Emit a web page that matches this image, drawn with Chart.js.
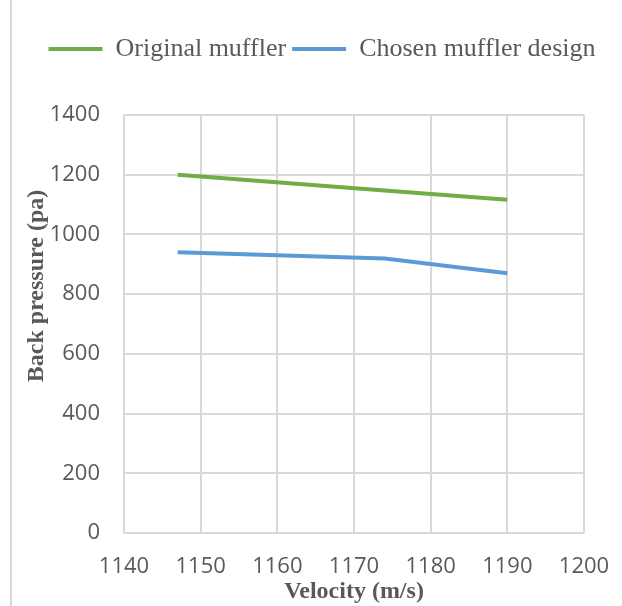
<!DOCTYPE html>
<html>
<head>
<meta charset="utf-8">
<script src="https://cdn.jsdelivr.net/npm/chart.js@4.4.0/dist/chart.umd.min.js"></script>
<style>
    html, body { margin: 0; padding: 0; background: #fff; }
    #moldura { position: relative; width: 622px; height: 606px; }
    #borda { position: absolute; left: 10px; top: 0; width: 2px; height: 606px; background: #d9d9d9; }
    canvas { position: absolute; left: 0; top: 0; }
</style>
</head>
<body>
<div id="moldura">
    <div id="borda"></div>
    <canvas id="graficoContrapressao" width="622" height="606"></canvas>
</div>
<script>
// dados
const velocidades = [1147, 1174, 1190];
const silenciadorOriginal = [1200, 1147, 1116];
const silenciadorEscolhido = [940, 919, 870];
const ticksX = [1140, 1150, 1160, 1170, 1180, 1190, 1200];
const ticksY = [0, 200, 400, 600, 800, 1000, 1200, 1400];
const nomesSeries = ['Original muffler', 'Chosen muffler design'];
const tituloX = 'Velocity (m/s)';
const tituloY = 'Back pressure (pa)';

const corTexto = '#595959';
const corGrade = '#d9d9d9';

function pontos(xs, ys) {
    return xs.map((x, i) => ({ x: x, y: ys[i] }));
}

// título do eixo Y desenhado à mão (no original ele não fica centrado)
const tituloEixoY = {
    id: 'tituloEixoY',
    afterDraw(chart) {
        const ctx = chart.ctx;
        ctx.save();
        ctx.translate(37, 286);
        ctx.rotate(-Math.PI / 2);
        ctx.font = 'bold 24px "Liberation Serif"';
        ctx.fillStyle = corTexto;
        ctx.textAlign = 'center';
        ctx.textBaseline = 'middle';
        ctx.fillText(tituloY, 0, 0);
        ctx.restore();
    }
};

// mais espaço abaixo da legenda
const espacoLegenda = {
    id: 'espacoLegenda',
    beforeInit(chart) {
        const fitOriginal = chart.legend.fit;
        chart.legend.fit = function() {
            fitOriginal.bind(chart.legend)();
            this.height += 43;
        };
    }
};

const ctx = document.getElementById('graficoContrapressao');

new Chart(ctx, {
    type: 'scatter',
    data: {
        datasets: [
            {
                label: nomesSeries[0],
                data: pontos(velocidades, silenciadorOriginal),
                borderColor: '#70ad47',
                backgroundColor: '#70ad47',
                borderWidth: 4,
                showLine: true,
                pointRadius: 0,
                tension: 0
            },
            {
                label: nomesSeries[1],
                data: pontos(velocidades, silenciadorEscolhido),
                borderColor: '#5b9bd5',
                backgroundColor: '#5b9bd5',
                borderWidth: 4,
                showLine: true,
                pointRadius: 0,
                tension: 0
            }
        ]
    },
    options: {
        responsive: false,
        animation: false,
        layout: {
            padding: { left: 22, right: 0, top: 30, bottom: 0 }
        },
        plugins: {
            legend: {
                display: true,
                position: 'top',
                labels: {
                    usePointStyle: true,
                    pointStyle: 'line',
                    pointStyleWidth: 54,
                    boxHeight: 4,
                    padding: 6,
                    color: corTexto,
                    font: { family: '"Liberation Serif"', size: 26 }
                }
            },
            tooltip: { enabled: false }
        },
        scales: {
            x: {
                type: 'linear',
                min: ticksX[0],
                max: ticksX[ticksX.length - 1],
                afterBuildTicks: function(scale) {
                    scale.ticks = ticksX.map(v => ({ value: v }));
                },
                afterFit: function(scale) {
                    scale.height = 73;
                    scale.paddingRight = 38;
                },
                grid: { color: corGrade, lineWidth: 2, drawTicks: false },
                border: { display: false },
                ticks: {
                    padding: 21,
                    color: corTexto,
                    font: { family: '"Open Sans"', size: 22 },
                    callback: function(valor) { return String(valor); }
                },
                title: {
                    display: true,
                    text: tituloX,
                    color: corTexto,
                    padding: 0,
                    font: { family: '"Liberation Serif"', size: 24, weight: 'bold' }
                }
            },
            y: {
                min: ticksY[0],
                max: ticksY[ticksY.length - 1],
                afterBuildTicks: function(scale) {
                    scale.ticks = ticksY.map(v => ({ value: v }));
                },
                afterFit: function(scale) {
                    scale.width = 102;
                },
                grid: { color: corGrade, lineWidth: 2, drawTicks: false },
                border: { display: false },
                ticks: {
                    padding: 24,
                    color: corTexto,
                    font: { family: '"Open Sans"', size: 22 },
                    callback: function(valor) { return String(valor); }
                }
            }
        }
    },
    plugins: [tituloEixoY, espacoLegenda]
});
</script>
</body>
</html>
